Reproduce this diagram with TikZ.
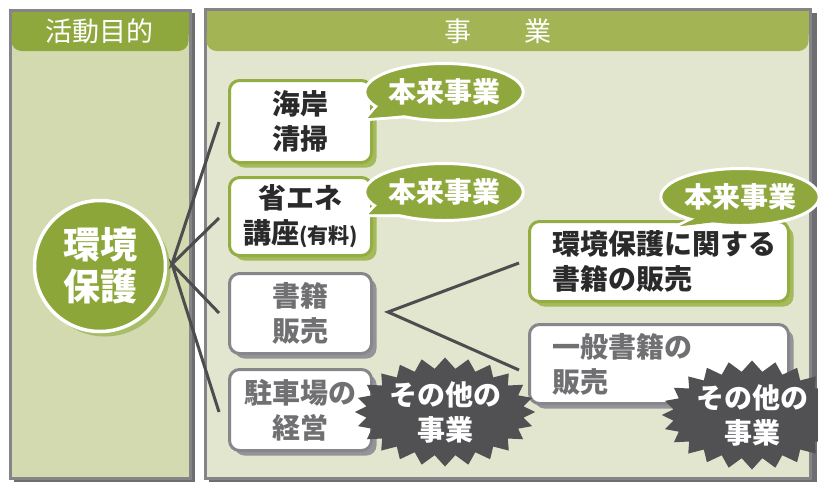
\documentclass[tikz,border=0pt]{standalone}
\usepackage{fontspec}
\setmainfont{Noto Sans CJK JP}
\usetikzlibrary{shapes.geometric,shapes.symbols,shadows}
\definecolor{leftfill}{HTML}{D3DAB0}
\definecolor{rightfill}{HTML}{E2E6CF}
\definecolor{hdrleft}{HTML}{8FA83D}
\definecolor{hdrright}{HTML}{A3B455}
\definecolor{panelborder}{HTML}{858589}
\definecolor{panelshadow}{HTML}{6E6E72}
\definecolor{circgreen}{HTML}{8CA63A}
\definecolor{cshadow}{HTML}{A7BD68}
\definecolor{gborder}{HTML}{93AD42}
\definecolor{gshadow}{HTML}{A4BA5C}
\definecolor{grborder}{HTML}{87878B}
\definecolor{grshadow}{HTML}{949498}
\definecolor{txtdark}{HTML}{2A2A2A}
\definecolor{txtgray}{HTML}{707072}
\definecolor{conncol}{HTML}{4D4D4F}
\definecolor{bubgreen}{HTML}{8FA83D}
\definecolor{stargray}{HTML}{515154}
\newcommand{\tailoutline}[4]{\draw[white,line width=6pt,line join=round] ([shift={#2}]#1) -- ([shift={#3}]#1) -- ([shift={#4}]#1) -- cycle;}
\newcommand{\tailfill}[4]{\fill[bubgreen] ([shift={#2}]#1) -- ([shift={#3}]#1) -- ([shift={#4}]#1) -- cycle;}
\begin{document}
\begin{tikzpicture}[x=1pt,y=-1pt,
  boxtext/.style={font=\bfseries\fontsize{28}{35}\selectfont},
  gbox/.style={boxtext,draw=gborder,line width=3pt,fill=white,rounded corners=10pt,inner sep=0pt,text=txtdark,align=center,
    general shadow={shadow xshift=5pt,shadow yshift=-5pt,fill=gshadow}},
  graybox/.style={boxtext,draw=grborder,line width=3pt,fill=white,rounded corners=10pt,inner sep=0pt,text=txtgray,align=center,
    general shadow={shadow xshift=5pt,shadow yshift=-5pt,fill=grshadow}},
  hdrtext/.style={text=white,font=\fontsize{27}{30}\selectfont},
  bubble/.style={ellipse,fill=bubgreen,draw=white,line width=3pt,inner sep=0pt,minimum width=155pt,minimum height=57pt,
    text=white,font=\bfseries\fontsize{28}{30}\selectfont},
  burst/.style={starburst,starburst points=24,starburst point height=11pt,random starburst=0,fill=stargray,inner sep=0pt,
    minimum width=172pt,minimum height=98pt,text=white,align=center,font=\bfseries\fontsize{28}{35}\selectfont},
  conn/.style={draw=conncol,line width=3pt}]
\useasboundingbox (0,0) rectangle (818,482);
\clip (0,0) rectangle (818,482);
\fill[white] (0,0) rectangle (818,482);
% left panel
\fill[panelshadow] (14,13) rectangle (195,482);
\filldraw[fill=leftfill,draw=panelborder,line width=3pt] (10,10) rectangle (190,478);
\fill[hdrleft] (11.5,11.5) rectangle (188.5,35);
\fill[hdrleft,rounded corners=10pt] (11.5,25) rectangle (188.5,51);
\node[hdrtext] (h1) at (99,31) {活動目的};
% right panel
\fill[panelshadow] (209,13) rectangle (817,482);
\filldraw[fill=rightfill,draw=panelborder,line width=3pt] (205,9.5) rectangle (810,478);
\fill[hdrright] (206.5,11) rectangle (808.5,35);
\fill[hdrright,rounded corners=10pt] (206.5,25) rectangle (808.5,51);
\node[hdrtext] (h2) at (498,31) {事\hspace{53pt}業};
% goal circle
\node[circle,fill=circgreen,draw=white,line width=3.5pt,minimum size=131pt,inner sep=0pt,text=white,align=center,
  font=\bfseries\fontsize{37}{42}\selectfont,
  general shadow={shadow xshift=5pt,shadow yshift=-5pt,fill=cshadow}] (goal) at (100,266) {環境\\保護};
% connectors
\coordinate (apex) at (172,264);
\coordinate (e1) at (219,122);
\coordinate (e2) at (219,218);
\coordinate (e3) at (219,313);
\coordinate (e4) at (219,412);
\draw[conn] (e1) -- (apex) -- (e2);
\draw[conn] (e3) -- (apex) -- (e4);
\coordinate (bapex) at (388,312);
\coordinate (f1) at (519,263);
\coordinate (f2) at (519,370);
\draw[conn] (f1) -- (bapex) -- (f2);
% boxes
\node[gbox,minimum width=142pt,minimum height=82pt] (b1) at (300.5,121.5) {海岸\\清掃};
\node[gbox,minimum width=142pt,minimum height=78pt] (b2) at (300.5,216.5) {省エネ\\講座{\fontsize{21}{35}\selectfont(有料)}};
\node[graybox,minimum width=142pt,minimum height=80pt] (b3) at (300.5,313.5) {書籍\\販売};
\node[graybox,minimum width=142pt,minimum height=81pt] (b4) at (300.5,410) {駐車場の\\経営};
\node[gbox,minimum width=259pt,minimum height=80pt,text width=214pt,align=left] (b5) at (659,261.5) {環境保護に関する\\書籍の販売};
\node[graybox,minimum width=259pt,minimum height=79pt,text width=214pt,align=left] (b6) at (659,364) {一般書籍の\\販売};
% bubbles
\coordinate (u1c) at (444,92);
\tailoutline{u1c}{(-64,12)}{(-76,26)}{(-36,23)}
\tailfill{u1c}{(-64,12)}{(-76,26)}{(-36,23)}
\node[bubble] (u1) at (u1c) {本来事業};
\tailfill{u1c}{(-64,12)}{(-76,26)}{(-36,23)}
\coordinate (u2c) at (444,192);
\tailoutline{u2c}{(-64,10)}{(-75,22)}{(-36,22)}
\tailfill{u2c}{(-64,10)}{(-75,22)}{(-36,22)}
\node[bubble] (u2) at (u2c) {本来事業};
\tailfill{u2c}{(-64,10)}{(-75,22)}{(-36,22)}
\coordinate (u3c) at (740,197);
\tailoutline{u3c}{(-42,20)}{(-60,29)}{(-24,25)}
\tailfill{u3c}{(-42,20)}{(-60,29)}{(-24,25)}
\node[bubble,minimum width=143pt] (u3) at (u3c) {本来事業};
\tailfill{u3c}{(-42,20)}{(-60,29)}{(-24,25)}
% starbursts
\node[burst] (s1) at (445,412) {その他の\\事業};
\node[burst] (s2) at (752,415) {その他の\\事業};
\end{tikzpicture}
\end{document}
